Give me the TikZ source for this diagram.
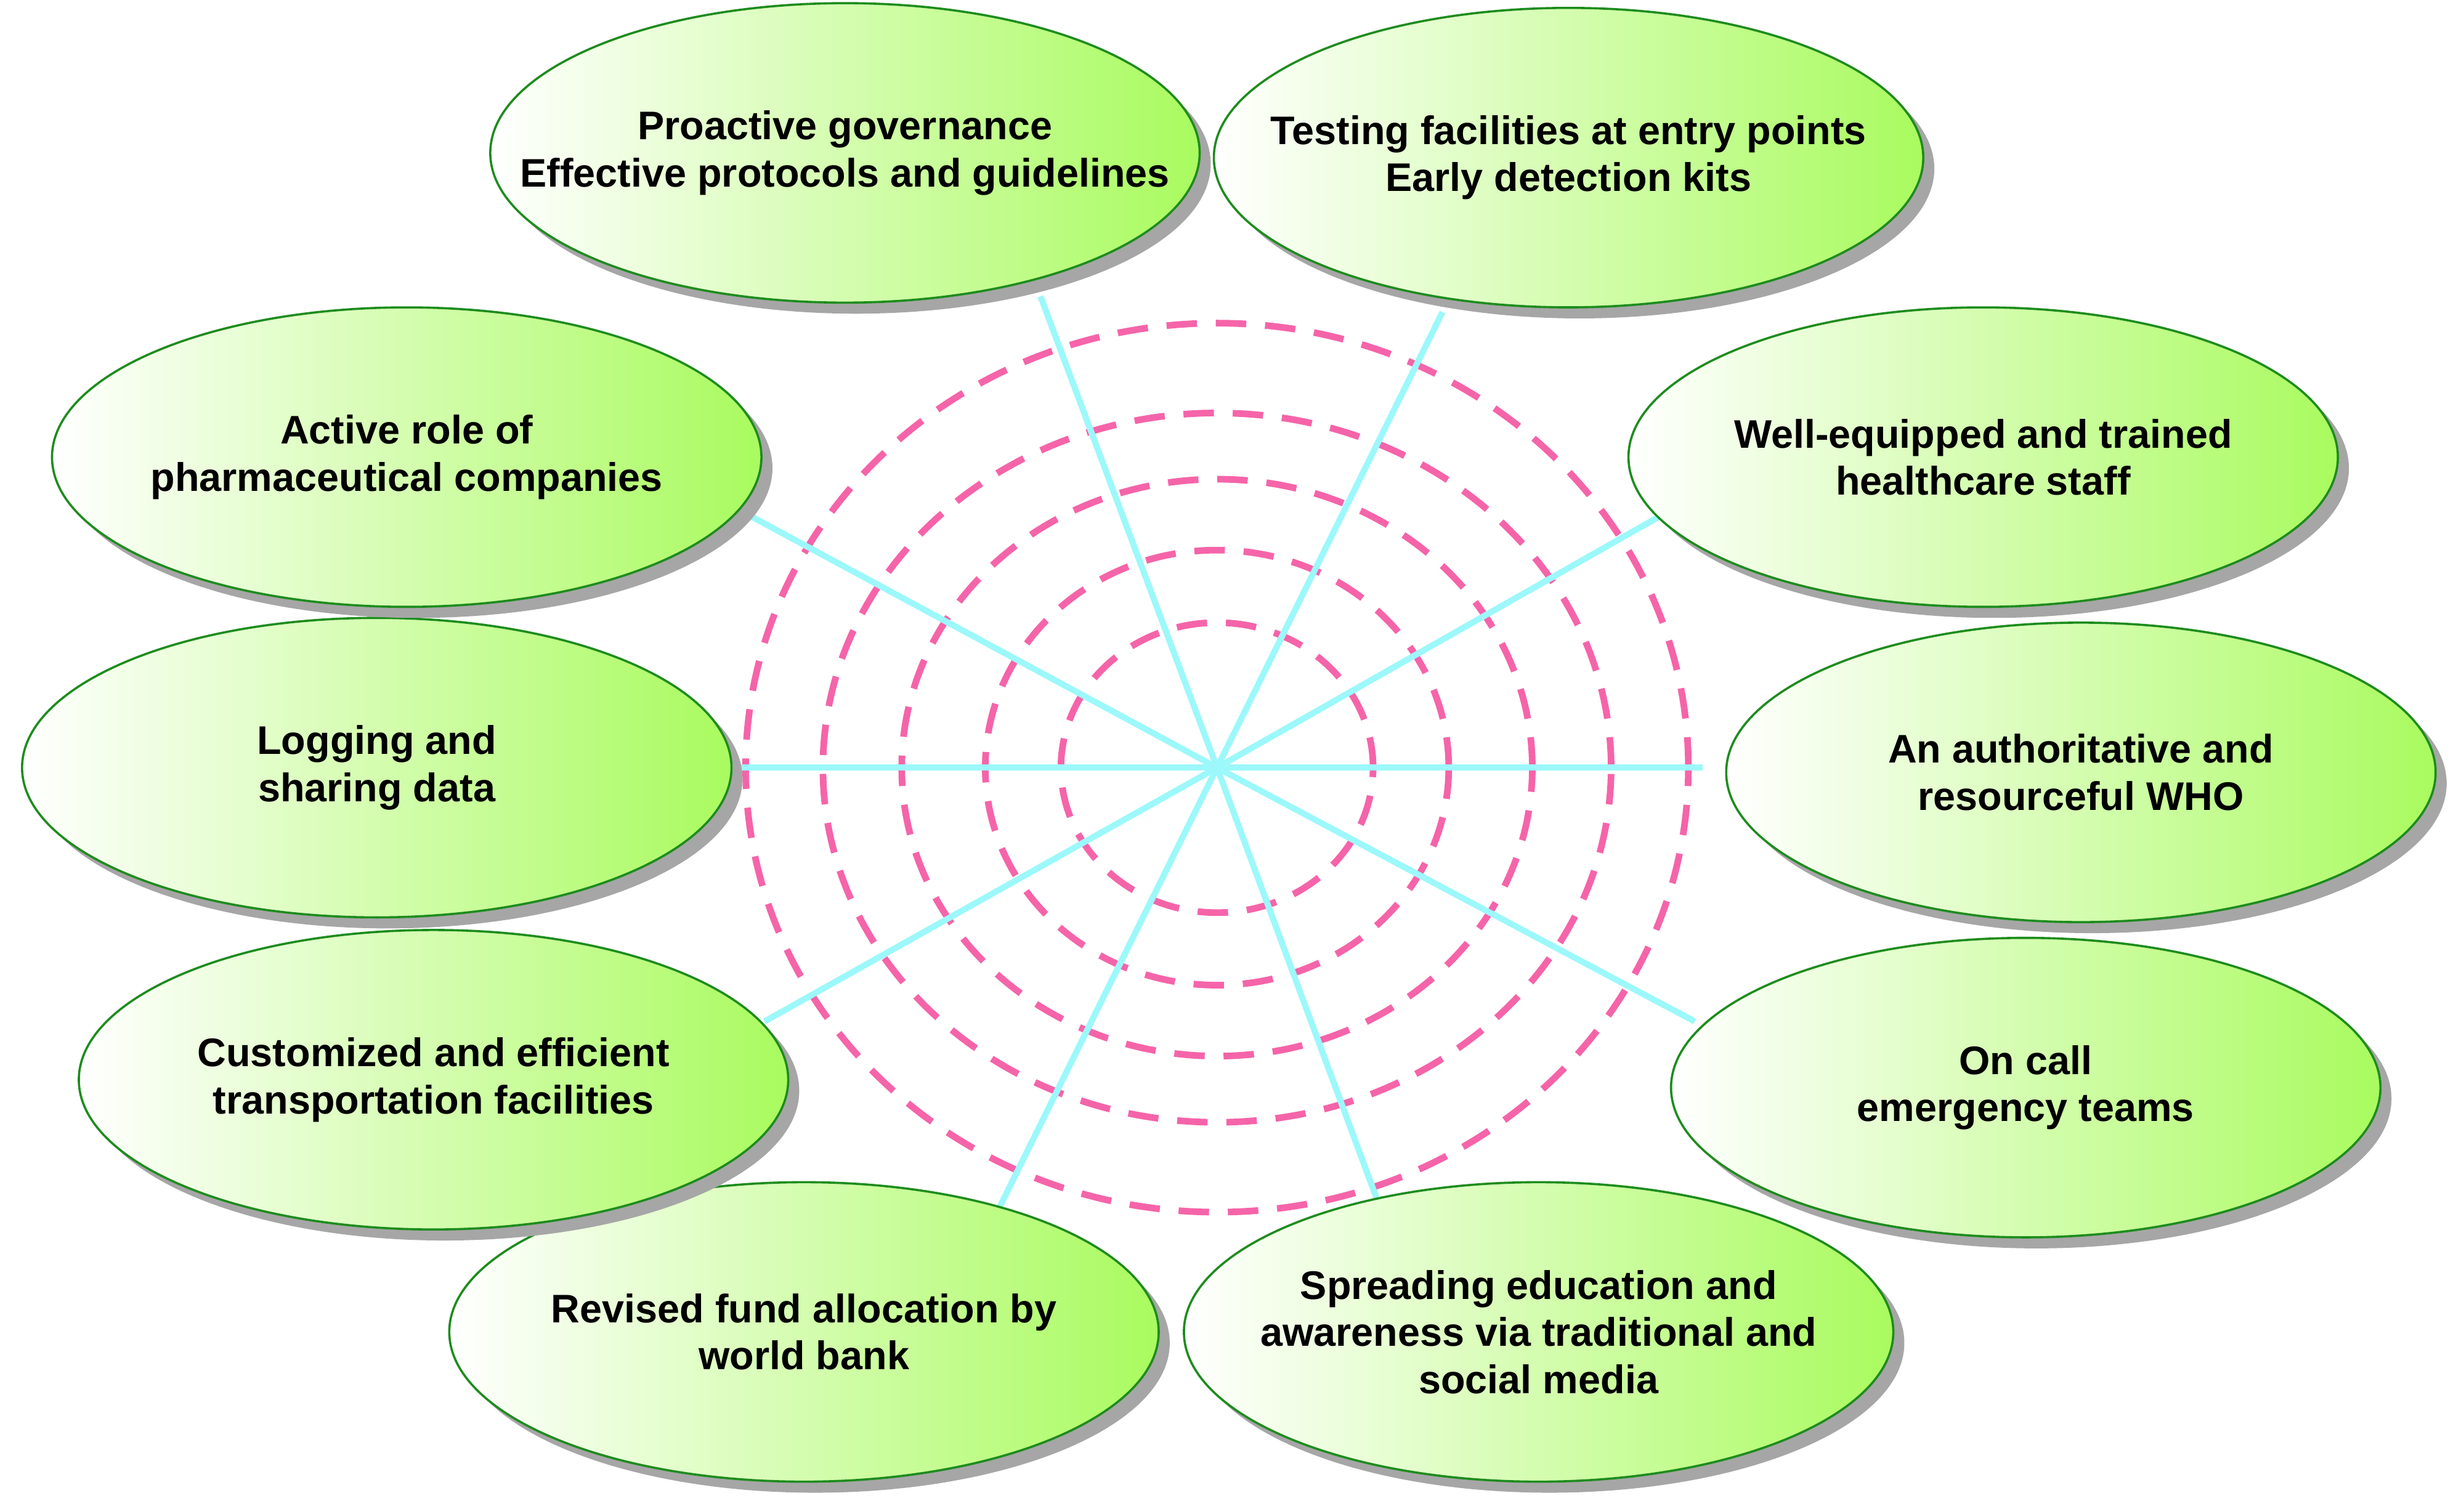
\documentclass[tikz,border=0pt]{standalone}
\usepackage{fontspec}
\setmainfont{Liberation Sans}
\usetikzlibrary{shapes.geometric,shadows}
\definecolor{ringpink}{HTML}{F564A9}
\definecolor{spokecyan}{HTML}{9CF8FA}
\definecolor{leafgreen}{HTML}{A9FB5F}
\definecolor{edgegreen}{HTML}{1E8C1E}
\tikzset{
  ring/.style={ringpink, line width=1.2pt, dash pattern=on 5.5pt off 3.4pt},
  spoke/.style={spokecyan, line width=1.1pt},
  leaf/.style={ellipse, draw=edgegreen, line width=0.4pt, minimum width=4.5cm, minimum height=1.9cm,
    inner xsep=-1cm, inner ysep=-0.3cm,
    left color=white, right color=leafgreen, align=center, font=\bfseries\fontsize{7.2}{8.5}\selectfont,
    drop shadow={shadow xshift=0.07cm, shadow yshift=-0.07cm, fill=gray!70, opacity=1}}
}
\begin{document}
\begin{tikzpicture}
\useasboundingbox (0,0) rectangle (15.63,9.57);
\coordinate (c) at (7.72,4.70);
% rings
\foreach \rx/\ry in {2.99/2.82, 2.50/2.25, 2.00/1.83, 1.47/1.38, 0.99/0.92}
  \draw[ring] (c) ellipse ({\rx} and {\ry});
% spoke ends
\coordinate (e1) at (6.60,7.69);
\coordinate (e2) at (9.15,7.59);
\coordinate (e3) at (10.52,6.29);
\coordinate (e4) at (10.80,4.70);
\coordinate (e5) at (10.75,3.09);
\coordinate (e6) at (8.75,1.92);
\coordinate (e7) at (6.32,1.87);
\coordinate (e8) at (4.85,3.09);
\coordinate (e9) at (4.68,4.70);
\coordinate (e10) at (4.68,6.34);
\foreach \i in {1,...,10}
  \draw[spoke] (c) -- (e\i);
% leaves
\node[leaf] (gov) at (5.36,8.60) {Proactive governance\\Effective protocols and guidelines};
\node[leaf] (test) at (9.95,8.57) {Testing facilities at entry points\\Early detection kits};
\node[leaf] (staff) at (12.58,6.67) {Well-equipped and trained\\healthcare staff};
\node[leaf] (who) at (13.20,4.67) {An authoritative and\\resourceful WHO};
\node[leaf] (team) at (12.85,2.67) {On call\\emergency teams};
\node[leaf] (edu) at (9.76,1.12) {Spreading education and\\awareness via traditional and\\social media};
\node[leaf] (fund) at (5.10,1.12) {Revised fund allocation by\\world bank};
\node[leaf] (trans) at (2.75,2.72) {Customized and efficient\\transportation facilities};
\node[leaf] (data) at (2.39,4.70) {Logging and\\sharing data};
\node[leaf] (pharma) at (2.58,6.67) {Active role of\\pharmaceutical companies};
\end{tikzpicture}
\end{document}
